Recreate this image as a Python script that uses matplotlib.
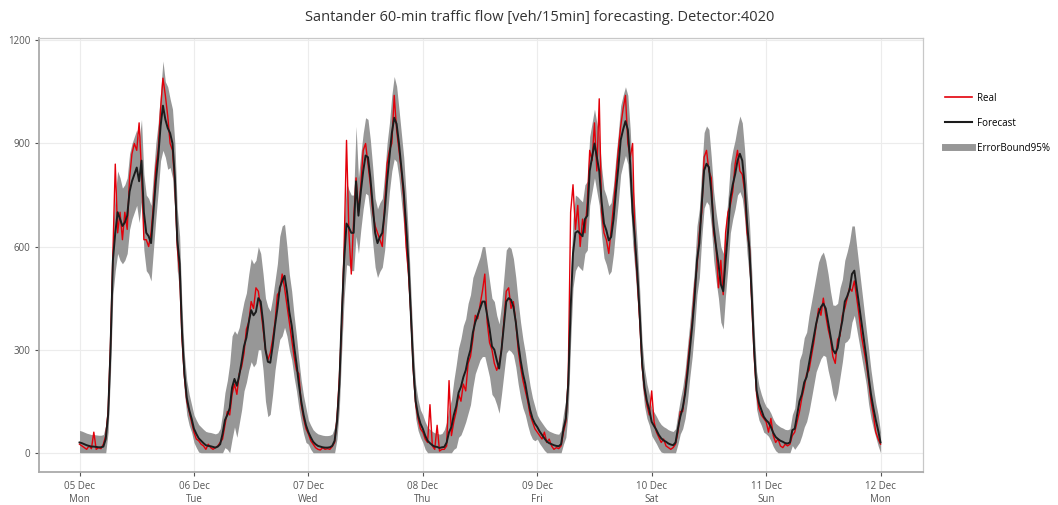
import numpy as np
import matplotlib
matplotlib.use("Agg")
import matplotlib.pyplot as plt
from matplotlib.lines import Line2D

plt.rcParams['font.family'] = ['Open Sans', 'DejaVu Sans']

# 30-min samples, 48 per day, starting 05 Dec 00:00 (Mon)
fcst_mon = [30, 28, 25, 22, 20, 18, 18, 17, 16, 16, 18, 40,
            110, 300, 560, 640, 700, 680, 660, 670, 690, 760, 790, 810,
            830, 790, 850, 700, 640, 630, 610, 700, 790, 860, 950, 1010,
            970, 945, 930, 900, 800, 620, 550, 350, 230, 160, 125, 100]
real_mon = [25, 20, 15, 10, 20, 12, 60, 10, 15, 12, 25, 50,
            120, 320, 580, 840, 640, 700, 620, 700, 650, 800, 870, 900,
            880, 960, 820, 620, 620, 600, 640, 720, 830, 880, 1000, 1090,
            1040, 980, 900, 880, 780, 600, 520, 330, 220, 150, 120, 90]
bound_mon = [35, 35, 35, 35, 35, 35, 35, 35, 35, 35, 35, 40,
             50, 70, 100, 110, 120, 120, 110, 110, 110, 110, 110, 110,
             110, 120, 120, 110, 110, 110, 110, 110, 110, 100, 100, 130,
             110, 120, 100, 100, 100, 90, 80, 70, 55, 50, 45, 40]

fcst_tue = [70, 55, 42, 35, 28, 22, 20, 19, 17, 15, 18, 25,
            55, 95, 110, 130, 190, 215, 195, 225, 265, 310, 335, 380,
            415, 400, 410, 450, 440, 380, 300, 265, 262, 310, 370, 420,
            480, 500, 515, 470, 410, 370, 310, 260, 200, 150, 110, 80]
real_tue = [60, 40, 35, 25, 20, 10, 25, 15, 10, 15, 20, 30,
            40, 80, 120, 110, 170, 200, 170, 230, 250, 290, 360, 380,
            440, 420, 480, 470, 420, 360, 300, 270, 290, 330, 380, 460,
            470, 520, 480, 430, 380, 330, 280, 240, 230, 140, 100, 70]
bound_tue = [40, 40, 40, 40, 40, 40, 40, 40, 40, 40, 40, 45,
             60, 80, 100, 130, 150, 140, 150, 140, 140, 130, 130, 140,
             150, 150, 150, 150, 140, 140, 150, 160, 150, 140, 130, 130,
             150, 160, 150, 130, 110, 100, 90, 80, 70, 60, 55, 50]

fcst_wed = [60, 45, 32, 25, 20, 18, 16, 15, 15, 16, 20, 35,
            90, 200, 400, 560, 667, 655, 640, 640, 790, 690, 760, 820,
            865, 860, 800, 720, 640, 610, 628, 640, 700, 790, 860, 930,
            975, 957, 900, 830, 760, 660, 550, 400, 250, 150, 110, 85]
real_wed = [55, 35, 25, 15, 10, 8, 15, 10, 12, 10, 18, 30,
            100, 220, 380, 600, 909, 640, 520, 680, 800, 700, 780, 880,
            900, 840, 780, 700, 660, 640, 620, 600, 720, 840, 880, 900,
            1040, 940, 880, 820, 740, 600, 520, 400, 240, 140, 100, 70]
bound_wed = [35, 35, 35, 35, 35, 35, 35, 35, 35, 35, 35, 40,
             50, 70, 100, 110, 120, 110, 110, 110, 160, 110, 110, 110,
             110, 110, 110, 110, 100, 100, 100, 100, 110, 110, 100, 110,
             120, 110, 100, 100, 100, 90, 80, 70, 60, 50, 45, 40]

fcst_thu = [70, 50, 35, 28, 22, 18, 17, 14, 16, 17, 30, 60,
            75, 110, 135, 175, 192, 220, 240, 275, 300, 350, 380, 400,
            420, 440, 440, 400, 360, 310, 300, 270, 245, 300, 370, 440,
            450, 445, 425, 380, 320, 270, 230, 200, 160, 125, 100, 85]
real_thu = [60, 40, 30, 140, 20, 10, 80, 5, 10, 10, 20, 210,
            50, 90, 120, 170, 150, 200, 180, 260, 280, 330, 400, 390,
            430, 470, 520, 380, 320, 300, 260, 240, 260, 300, 380, 470,
            480, 420, 440, 380, 300, 250, 210, 180, 150, 110, 90, 70]
bound_thu = [40, 40, 40, 40, 40, 40, 40, 40, 40, 50, 60, 70,
             80, 100, 120, 130, 140, 150, 150, 160, 160, 160, 150, 150,
             150, 160, 160, 150, 140, 140, 140, 130, 130, 130, 140, 150,
             150, 150, 140, 130, 120, 110, 100, 90, 80, 70, 60, 50]

fcst_fri = [75, 62, 52, 42, 33, 28, 25, 22, 20, 19, 25, 70,
            100, 200, 420, 580, 640, 645, 637, 630, 680, 690, 820, 860,
            900, 860, 820, 730, 667, 647, 618, 628, 680, 760, 830, 910,
            940, 965, 940, 840, 700, 620, 520, 400, 260, 190, 150, 125]
real_fri = [60, 50, 40, 60, 30, 40, 20, 10, 15, 12, 20, 60,
            90, 220, 700, 780, 650, 720, 600, 680, 640, 730, 880, 850,
            960, 820, 1030, 700, 640, 620, 580, 650, 720, 800, 880, 950,
            1000, 1040, 900, 860, 900, 600, 500, 380, 250, 180, 140, 110]
bound_fri = [35, 35, 35, 35, 35, 35, 35, 35, 35, 35, 40, 45,
             55, 80, 100, 100, 110, 100, 100, 100, 100, 100, 100, 100,
             100, 100, 100, 100, 100, 100, 100, 100, 100, 100, 100, 100,
             100, 100, 100, 100, 90, 90, 80, 70, 60, 55, 50, 45]

fcst_sat = [90, 78, 66, 52, 42, 36, 32, 27, 24, 22, 30, 70,
            105, 130, 170, 230, 300, 370, 450, 560, 610, 725, 822, 841,
            831, 760, 660, 600, 550, 490, 470, 560, 640, 740, 780, 810,
            850, 870, 850, 780, 670, 590, 453, 298, 182, 145, 125, 105]
real_sat = [180, 90, 60, 45, 30, 40, 20, 15, 10, 15, 25, 60,
            120, 120, 180, 250, 320, 380, 480, 540, 640, 700, 860, 880,
            820, 800, 640, 600, 480, 560, 460, 640, 700, 720, 760, 840,
            880, 820, 810, 760, 640, 600, 430, 280, 170, 130, 110, 100]
bound_sat = [40, 40, 40, 40, 40, 40, 40, 40, 40, 40, 40, 45,
             50, 60, 70, 80, 80, 90, 90, 100, 100, 100, 110, 110,
             110, 100, 100, 100, 100, 110, 110, 100, 100, 100, 100, 100,
             100, 110, 110, 100, 90, 80, 70, 60, 55, 50, 45, 45]

fcst_sun = [95, 88, 75, 58, 46, 40, 35, 32, 28, 27, 30, 66,
            70, 110, 150, 170, 205, 221, 260, 298, 337, 376, 405, 424,
            434, 420, 380, 340, 300, 289, 305, 350, 385, 440, 455, 475,
            520, 530, 480, 430, 380, 330, 279, 221, 170, 130, 95, 65]
real_sun = [90, 60, 100, 50, 30, 40, 20, 15, 25, 20, 25, 50,
            60, 90, 120, 160, 190, 230, 240, 280, 320, 370, 420, 400,
            450, 400, 360, 330, 280, 260, 330, 340, 400, 420, 450, 480,
            470, 500, 450, 400, 340, 300, 260, 210, 150, 110, 60, 40]
bound_sun = [40, 40, 40, 40, 40, 40, 40, 40, 40, 40, 40, 45,
             60, 90, 120, 120, 130, 130, 140, 140, 140, 140, 150, 150,
             150, 140, 140, 130, 130, 140, 130, 130, 120, 120, 130, 140,
             140, 130, 120, 110, 100, 90, 80, 80, 70, 60, 50, 45]

# 12 Dec 00:00
fcst_end = [30]
real_end = [25]
bound_end = [30]

day_labels = ["05 Dec\nMon", "06 Dec\nTue", "07 Dec\nWed", "08 Dec\nThu",
              "09 Dec\nFri", "10 Dec\nSat", "11 Dec\nSun", "12 Dec\nMon"]
y_ticks = [0, 300, 600, 900, 1200]

fcst = np.array(fcst_mon + fcst_tue + fcst_wed + fcst_thu + fcst_fri
                + fcst_sat + fcst_sun + fcst_end, dtype=float)
real = np.array(real_mon + real_tue + real_wed + real_thu + real_fri
                + real_sat + real_sun + real_end, dtype=float)
bound = np.array(bound_mon + bound_tue + bound_wed + bound_thu + bound_fri
                 + bound_sat + bound_sun + bound_end, dtype=float)
t = np.arange(len(fcst)) / 48.0  # days since 05 Dec

fig = plt.figure(figsize=(10.58, 5.05), dpi=100)
ax = fig.add_axes([0.0373, 0.0653, 0.835, 0.8595])

band_color = '#979797'
ax.fill_between(t, np.clip(fcst - bound, 0, None), fcst + bound,
                color=band_color, lw=0)
ax.plot(t, real, color='#e3000a', lw=1.0)
ax.plot(t, fcst, color='#1c1c1c', lw=1.4)

ax.set_xlim(-0.35, 7.37)
ax.set_ylim(-56, 1207)
ax.set_xticks(range(len(day_labels)))
ax.set_xticklabels(day_labels)
ax.set_yticks(y_ticks)
ax.tick_params(colors='#555555', labelsize=7, length=3, width=0.8)
for lab in ax.get_xticklabels() + ax.get_yticklabels():
    lab.set_color('#555555')
ax.grid(color='#ececec', lw=0.8)
ax.set_axisbelow(True)
for side in ['top', 'right']:
    ax.spines[side].set_color('#c8c8c8')
    ax.spines[side].set_linewidth(0.9)
for side in ['left', 'bottom']:
    ax.spines[side].set_color('#aaaaaa')
    ax.spines[side].set_linewidth(1.3)

fig.text(0.51, 0.966, "Santander 60-min traffic flow [veh/15min] forecasting. Detector:4020",
         ha='center', va='center', fontsize=10.5, color='#333333')

handles = [Line2D([], [], color='#e3000a', lw=1.2),
           Line2D([], [], color='#1c1c1c', lw=1.5),
           Line2D([], [], color=band_color, lw=5)]
fig.legend(handles, ["Real", "Forecast", "ErrorBound95%"],
           loc='upper left', bbox_to_anchor=(0.885, 0.834), frameon=False,
           fontsize=7, handlelength=2.8, labelspacing=1.45, handletextpad=0.5)

fig.savefig("out.png", dpi=100)
